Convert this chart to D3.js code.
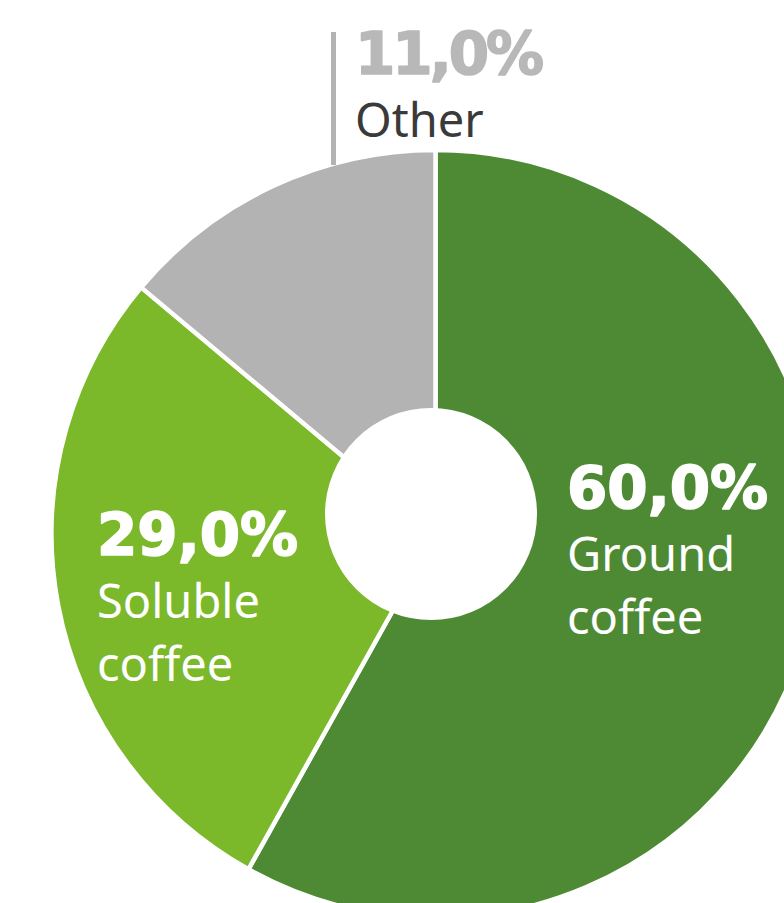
<!DOCTYPE html>
<html lang="en">
<head>
    <meta charset="UTF-8">
    <title>Coffee consumption by type</title>
    <script src="https://d3js.org/d3.v7.min.js"></script>
    <style>
        body {
            margin: 0;
            background: #fff;
        }
        svg {
            display: block;
        }
        .pct {
            font-family: "DejaVu Sans", sans-serif;
            font-weight: 700;
            font-size: 58px;
            stroke-width: 1.6px;
            stroke-linejoin: round;
        }
        .name {
            font-family: "Noto Sans", "Open Sans", sans-serif;
            font-weight: 400;
            font-size: 47px;
        }
    </style>
</head>
<body>
    <svg id="chart" width="784" height="903"></svg>
    <script>
        // slices as they are drawn in the picture (the printed labels differ slightly)
        const categories = ["Ground coffee", "Soluble coffee", "Other"];
        const shares = [58.1, 28.0, 13.9];
        const shareLabels = ["60,0%", "29,0%", "11,0%"];
        const nameLines = [["Ground", "coffee"], ["Soluble", "coffee"], ["Other"]];
        const colors = ["#4e8a34", "#7bb92b", "#b3b3b3"];

        const width = 784, height = 903;
        const cx = 435.5, cy = 534, radius = 382;

        const data = categories.map((c, i) => ({
            name: c, value: shares[i], label: shareLabels[i], lines: nameLines[i], color: colors[i]
        }));

        const svg = d3.select("#chart");
        const g = svg.append("g").attr("transform", `translate(${cx},${cy})`);

        const pie = d3.pie().sort(null).value(d => d.value);
        const arc = d3.arc().innerRadius(0).outerRadius(radius + 2);

        g.selectAll("path")
            .data(pie(data))
            .enter()
            .append("path")
            .attr("d", arc)
            .attr("fill", d => d.data.color)
            .attr("stroke", "#fff")
            .attr("stroke-width", 4.5)
            .attr("stroke-linejoin", "round");

        // hole sits a little above and left of the pie centre
        g.append("circle")
            .attr("cx", -4.5)
            .attr("cy", -20)
            .attr("r", 106)
            .attr("fill", "#fff");

        // label anchors relative to the centre: [dx, dy of first baseline]
        const anchors = [[131.5, -26], [-338.5, 21], [-80.5, -460]];
        const lineGap = 63;

        // leader for the small slice
        g.append("line")
            .attr("x1", -102).attr("x2", -102)
            .attr("y1", -502).attr("y2", -369)
            .attr("stroke", "#b3b3b3")
            .attr("stroke-width", 5);

        data.forEach((d, i) => {
            const [dx, dy] = anchors[i];
            const outside = i === 2;
            const pctColor = outside ? "#b8b8b8" : "#fff";
            g.append("text")
                .attr("class", "pct")
                .attr("x", dx).attr("y", dy)
                .attr("fill", pctColor)
                .attr("stroke", pctColor)
                .attr("letter-spacing", outside ? -3 : 0)
                .text(d.label);
            d.lines.forEach((line, j) => {
                g.append("text")
                    .attr("class", "name")
                    .attr("x", dx).attr("y", dy + lineGap * (j + 1))
                    .attr("fill", outside ? "#3a3a3a" : "#fff")
                    .text(line);
            });
        });
    </script>
</body>
</html>
